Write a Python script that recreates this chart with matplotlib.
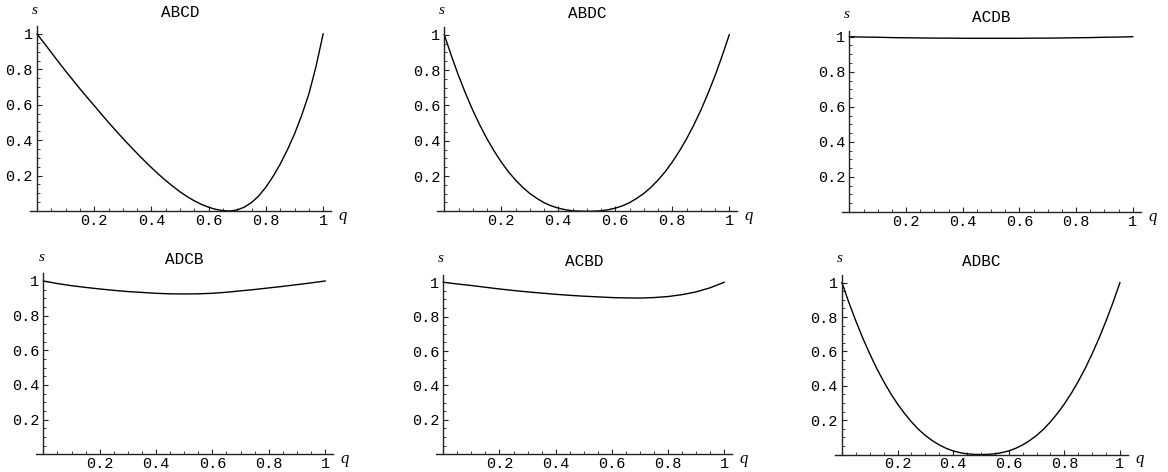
import matplotlib
matplotlib.use("Agg")
import matplotlib.pyplot as plt
from matplotlib.ticker import MultipleLocator

## six orderings, s against q
names = ['ABCD', 'ABDC', 'ACDB', 'ADCB', 'ACBD', 'ADBC']

q_fine = [0.000, 0.025, 0.050, 0.075, 0.100, 0.125, 0.150, 0.175, 0.200, 0.225,
          0.250, 0.275, 0.300, 0.325, 0.350, 0.375, 0.400, 0.425, 0.450, 0.475,
          0.500, 0.525, 0.550, 0.575, 0.600, 0.625, 0.650, 0.675, 0.700, 0.725,
          0.750, 0.775, 0.800, 0.825, 0.850, 0.875, 0.900, 0.925, 0.950, 0.975, 1.000]
q_coarse = [0.00, 0.05, 0.10, 0.15, 0.20, 0.25, 0.30, 0.35, 0.40, 0.45, 0.50,
            0.55, 0.60, 0.65, 0.70, 0.75, 0.80, 0.85, 0.90, 0.95, 1.00]

s_abcd = [1.000, 0.948, 0.895, 0.842, 0.790, 0.740, 0.690, 0.642, 0.595, 0.547,
          0.500, 0.455, 0.410, 0.367, 0.325, 0.284, 0.245, 0.207, 0.172, 0.139,
          0.108, 0.081, 0.057, 0.037, 0.021, 0.009, 0.002, 0.000, 0.006, 0.022,
          0.048, 0.085, 0.135, 0.195, 0.265, 0.345, 0.435, 0.540, 0.660, 0.815, 1.000]
s_abdc = [1.000, 0.880, 0.768, 0.666, 0.572, 0.487, 0.410, 0.341, 0.279, 0.224,
          0.177, 0.136, 0.101, 0.073, 0.049, 0.031, 0.018, 0.009, 0.003, 0.001,
          0.000, 0.001, 0.003, 0.009, 0.018, 0.031, 0.049, 0.073, 0.101, 0.136,
          0.177, 0.224, 0.279, 0.341, 0.410, 0.487, 0.572, 0.666, 0.768, 0.880, 1.000]
s_adbc = [1.000, 0.884, 0.777, 0.677, 0.586, 0.501, 0.425, 0.356, 0.294, 0.239,
          0.190, 0.147, 0.111, 0.081, 0.056, 0.036, 0.021, 0.011, 0.004, 0.001,
          0.000, 0.001, 0.004, 0.011, 0.021, 0.036, 0.056, 0.081, 0.111, 0.147,
          0.190, 0.239, 0.294, 0.356, 0.425, 0.501, 0.586, 0.677, 0.777, 0.884, 1.000]
s_acdb = [1.000, 0.998, 0.997, 0.995, 0.994, 0.993, 0.992, 0.992, 0.991, 0.991, 0.991,
          0.991, 0.991, 0.992, 0.992, 0.993, 0.994, 0.995, 0.997, 0.998, 1.000]
s_adcb = [1.000, 0.985, 0.973, 0.963, 0.954, 0.946, 0.939, 0.934, 0.929, 0.926, 0.925,
          0.926, 0.929, 0.935, 0.943, 0.951, 0.960, 0.969, 0.979, 0.989, 1.000]
s_acbd = [1.000, 0.990, 0.981, 0.971, 0.961, 0.952, 0.944, 0.937, 0.930, 0.924, 0.919,
          0.915, 0.911, 0.909, 0.908, 0.911, 0.917, 0.928, 0.944, 0.968, 1.000]

curves = [(q_fine, s_abcd), (q_fine, s_abdc), (q_coarse, s_acdb),
          (q_coarse, s_adcb), (q_coarse, s_acbd), (q_fine, s_adbc)]

xticks = [0.2, 0.4, 0.6, 0.8, 1.0]
xticklabels = ['0.2', '0.4', '0.6', '0.8', '1']
yticks = [0.2, 0.4, 0.6, 0.8, 1.0]
yticklabels = ['0.2', '0.4', '0.6', '0.8', '1']

boxes = [[0.0256, 0.5530, 0.2579, 0.3919],
         [0.3743, 0.5523, 0.2569, 0.3909],
         [0.7211, 0.5508, 0.2555, 0.3844],
         [0.0311, 0.0375, 0.2540, 0.3837],
         [0.3735, 0.0375, 0.2533, 0.3809],
         [0.7149, 0.0370, 0.2506, 0.3806]]
ytops = [1.045, 1.045, 1.035, 1.045, 1.045, 1.045]

mono = 'Liberation Mono'
serif = 'Liberation Serif'

fig = plt.figure(figsize=(11.68, 4.72), dpi=100)

for i in range(6):
    ax = fig.add_axes(boxes[i])
    q, s = curves[i]
    ax.plot(q, s, color='black', lw=1.0, solid_joinstyle='round')
    ax.set_xlim(-0.025, 1.028)
    ax.set_ylim(0, ytops[i])

    ax.spines['left'].set_position(('data', 0))
    ax.spines['bottom'].set_position(('data', 0))
    ax.spines['top'].set_visible(False)
    ax.spines['right'].set_visible(False)
    for sp in ['left', 'bottom']:
        ax.spines[sp].set_linewidth(1.0)
        ax.spines[sp].set_color('#222222')

    ax.set_xticks(xticks)
    ax.set_xticklabels(xticklabels, fontfamily=mono, fontsize=11)
    ax.set_yticks(yticks)
    ax.set_yticklabels(yticklabels, fontfamily=mono, fontsize=11)
    ax.xaxis.set_minor_locator(MultipleLocator(0.05))
    ax.yaxis.set_minor_locator(MultipleLocator(0.05))
    ax.tick_params(which='major', direction='in', length=3.5, width=0.8, color='#222222')
    ax.tick_params(axis='x', which='major', pad=2)
    ax.tick_params(axis='y', which='major', pad=3)
    ax.tick_params(which='minor', direction='in', length=2, width=0.6, color='#222222')
    ax.patch.set_visible(False)

    ax.annotate(names[i], (0.5, 1), xycoords='axes fraction', xytext=(0, 9.5),
                textcoords='offset points', ha='center', va='center',
                fontfamily=mono, fontsize=11.5)
    ax.annotate('s', (0.025 / 1.053, 1), xycoords='axes fraction', xytext=(-1.5, 11.5),
                textcoords='offset points', ha='center', va='center',
                fontfamily=serif, style='italic', fontsize=11)
    ax.annotate('q', (1, 0), xycoords='axes fraction', xytext=(8.5, -3.5),
                textcoords='offset points', ha='center', va='center',
                fontfamily=serif, style='italic', fontsize=12)

fig.savefig('out.png', dpi=100)
